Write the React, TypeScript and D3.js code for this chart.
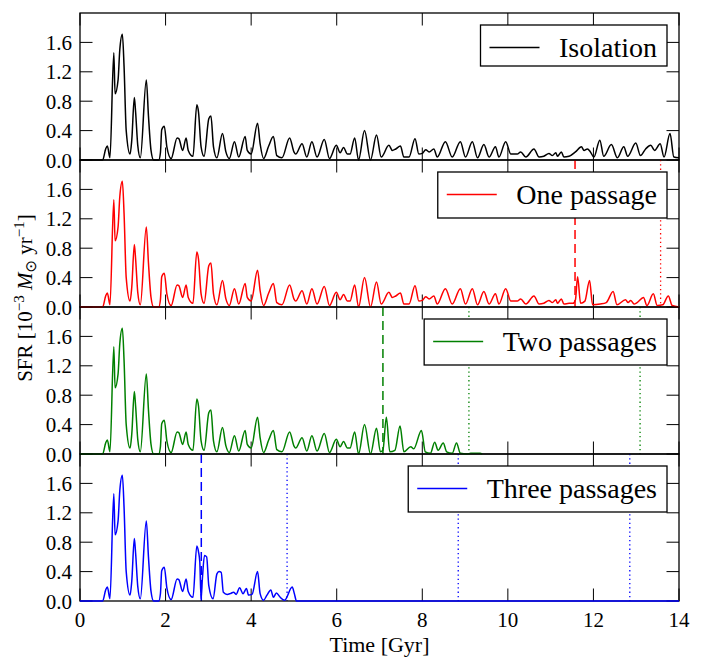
import React, { useEffect, useRef } from 'react';
import * as d3 from 'd3';

// ---- Data (time in Gyr, SFR in 1e-3 Msun/yr) ----
const isolationSfr: [number, number][] = [
  [0, 0], [0.53, 0], [0.60, 0.15], [0.64, 0.19], [0.70, 0.03], [0.79, 1.46], [0.82, 0.90],
  [0.89, 1.09], [0.93, 1.50], [0.99, 1.71], [1.03, 1.27], [1.08, 0.40], [1.17, 0.08],
  [1.21, 0.27], [1.27, 0.85], [1.30, 0.65], [1.35, 0.20], [1.41, 0.03], [1.55, 1.09],
  [1.60, 0.60], [1.66, 0.13], [1.72, 0.0], [1.84, 0.0], [1.88, 0.10], [1.91, 0.41],
  [1.97, 0.46], [2.03, 0.18], [2.13, 0.02], [2.27, 0.30], [2.31, 0.29], [2.40, 0.13],
  [2.48, 0.30], [2.53, 0.13], [2.64, 0.05], [2.73, 0.75], [2.77, 0.65], [2.83, 0.18],
  [2.90, 0.05], [3.01, 0.56], [3.06, 0.60], [3.12, 0.18], [3.20, 0.03], [3.33, 0.36],
  [3.41, 0.11], [3.49, 0.02], [3.61, 0.25], [3.71, 0.04], [3.86, 0.32], [3.91, 0.13],
  [4.00, 0.08], [4.15, 0.50], [4.21, 0.22], [4.29, 0.02], [4.41, 0.19], [4.52, 0.32],
  [4.60, 0.06], [4.72, 0.03], [4.90, 0.30], [5.00, 0.11], [5.04, 0.08], [5.19, 0.22],
  [5.30, 0.04], [5.42, 0.25], [5.54, 0.04], [5.71, 0.28], [5.83, 0.02], [5.99, 0.20],
  [6.08, 0.10], [6.16, 0.17], [6.25, 0.08], [6.31, 0.08], [6.42, 0.30], [6.51, 0.0],
  [6.65, 0.40], [6.79, 0.0], [6.93, 0.34], [7.04, 0.04], [7.22, 0.20], [7.30, 0.13],
  [7.38, 0.15], [7.49, 0.19], [7.57, 0.04], [7.69, 0.04], [7.83, 0.29], [7.92, 0.08],
  [8.00, 0.09], [8.08, 0.14], [8.16, 0.11], [8.27, 0.15], [8.35, 0.04], [8.54, 0.25],
  [8.70, 0.04], [8.89, 0.25], [9.01, 0.04], [9.17, 0.25], [9.29, 0.03], [9.44, 0.21],
  [9.56, 0.04], [9.71, 0.18], [9.79, 0.04], [9.95, 0.25], [10.07, 0.08], [10.22, 0.08],
  [10.30, 0.11], [10.42, 0.04], [10.61, 0.15], [10.73, 0.04], [10.84, 0.05], [10.96, 0.09],
  [11.04, 0.06], [11.12, 0.10], [11.16, 0.05], [11.25, 0.11], [11.31, 0.04], [11.43, 0.05],
  [11.58, 0.11], [11.72, 0.18], [11.78, 0.13], [11.86, 0.15], [11.93, 0.11], [12.01, 0.04],
  [12.15, 0.27], [12.24, 0.05], [12.42, 0.21], [12.56, 0.03], [12.71, 0.18], [12.80, 0.05],
  [12.99, 0.23], [13.10, 0.06], [13.22, 0.15], [13.34, 0.20], [13.43, 0.13], [13.56, 0.22],
  [13.65, 0.04], [13.79, 0.36], [13.88, 0.04], [14.0, 0.03],
];

// parts after each galaxy departs from the isolated run
const onePassageLate: [number, number][] = [
  [11.52, 0.05], [11.58, 0.10], [11.63, 0.41], [11.70, 0.05], [11.80, 0.08], [11.91, 0.36],
  [11.98, 0.03], [12.16, 0.04], [12.30, 0.06], [12.46, 0.21], [12.55, 0.03], [12.75, 0.10],
  [12.81, 0.06], [12.87, 0.09], [12.95, 0.04], [13.02, 0.06], [13.17, 0.13], [13.25, 0.02],
  [13.40, 0.18], [13.49, 0.02], [13.62, 0.03], [13.75, 0.15], [13.84, 0.02], [14.0, 0.0],
];
const twoPassagesLate: [number, number][] = [
  [6.93, 0.35], [7.02, 0.03], [7.08, 0.05], [7.16, 0.50], [7.24, 0.03], [7.36, 0.05],
  [7.48, 0.38], [7.57, 0.03], [7.73, 0.10], [7.80, 0.07], [7.98, 0.32], [8.07, 0.03],
  [8.19, 0.01], [8.29, 0.16], [8.37, 0.05], [8.49, 0.15], [8.57, 0.03], [8.70, 0.01],
  [8.80, 0.15], [8.89, 0.01], [9.05, 0.0], [9.13, 0.01], [9.35, 0.01], [9.40, 0.0],
];
const threePassagesLate: [number, number][] = [
  [2.73, 0.75], [2.77, 0.67], [2.80, 0.53], [2.83, 0.03], [2.86, 0.30], [2.91, 0.62],
  [2.96, 0.60], [3.01, 0.21], [3.11, 0.03], [3.20, 0.37], [3.25, 0.40], [3.30, 0.39],
  [3.35, 0.12], [3.44, 0.09], [3.51, 0.10], [3.59, 0.12], [3.65, 0.09], [3.73, 0.18],
  [3.81, 0.10], [3.89, 0.17], [3.94, 0.08], [4.02, 0.09], [4.15, 0.40], [4.21, 0.10],
  [4.29, 0.01], [4.37, 0.08], [4.46, 0.15], [4.52, 0.05], [4.59, 0.11], [4.68, 0.05],
  [4.78, 0.01], [4.96, 0.19], [5.01, 0.10], [5.06, 0.0], [14.0, 0.0],
];
const departureTimes = [14.1, 11.43, 6.79, 2.64];

const seriesNames = ['Isolation', 'One passage', 'Two passages', 'Three passages'];
const seriesColors = ['#000000', '#ff0000', '#008000', '#0000ff'];
const pericentreDashed: number[][] = [[], [11.57], [7.08], [2.835]];
const pericentreDotted: number[][] = [[], [13.57], [9.09, 13.09], [4.84, 8.84, 12.85]];

const xTicks = [0, 2, 4, 6, 8, 10, 12, 14];
const yTicks = [0, 0.4, 0.8, 1.2, 1.6];
const xDomain: [number, number] = [0, 14];
const yDomain: [number, number] = [0, 2];

const FONT = 'Liberation Serif';

export default function App() {
  const ref = useRef<SVGSVGElement>(null);

  useEffect(() => {
    const svg = d3.select(ref.current);
    svg.selectAll('*').remove();

    const left = 80, right = 679, top = 13, panelH = 147, tickLen = 12.5;
    const x = d3.scaleLinear().domain(xDomain).range([left, right]);

    const lates = [[], onePassageLate, twoPassagesLate, threePassagesLate];
    const series = seriesNames.map((name, i) => {
      const early = isolationSfr.filter((d) => d[0] <= departureTimes[i]);
      return { name, color: seriesColors[i], points: i === 0 ? isolationSfr : early.concat(lates[i] as [number, number][]) };
    });

    series.forEach((s, i) => {
      const y0 = top + i * panelH;
      const y1 = y0 + panelH;
      const y = d3.scaleLinear().domain(yDomain).range([y1, y0]);
      const g = svg.append('g');

      // passage markers
      pericentreDashed[i].forEach((t) => {
        g.append('line').attr('x1', x(t)).attr('x2', x(t)).attr('y1', y0).attr('y2', y1)
          .attr('stroke', s.color).attr('stroke-width', 1.5).attr('stroke-dasharray', '9,5');
      });
      pericentreDotted[i].forEach((t) => {
        g.append('line').attr('x1', x(t)).attr('x2', x(t)).attr('y1', y0).attr('y2', y1)
          .attr('stroke', s.color).attr('stroke-width', 1.3).attr('stroke-dasharray', '1.3,3');
      });

      // ticks
      xTicks.forEach((t) => {
        g.append('line').attr('x1', x(t)).attr('x2', x(t)).attr('y1', y1).attr('y2', y1 - tickLen)
          .attr('stroke', '#000').attr('stroke-width', 1);
        g.append('line').attr('x1', x(t)).attr('x2', x(t)).attr('y1', y0).attr('y2', y0 + tickLen)
          .attr('stroke', '#000').attr('stroke-width', 1);
      });
      yTicks.forEach((v) => {
        g.append('line').attr('x1', left).attr('x2', left + tickLen).attr('y1', y(v)).attr('y2', y(v))
          .attr('stroke', '#000').attr('stroke-width', 1);
        g.append('line').attr('x1', right).attr('x2', right - tickLen).attr('y1', y(v)).attr('y2', y(v))
          .attr('stroke', '#000').attr('stroke-width', 1);
        g.append('text').attr('x', left - 8).attr('y', y(v)).attr('dy', '0.36em')
          .attr('text-anchor', 'end').style('font-family', FONT).attr('font-size', 21)
          .text(d3.format('.1f')(v));
      });

      // frame
      g.append('rect').attr('x', left).attr('y', y0).attr('width', right - left).attr('height', panelH)
        .attr('fill', 'none').attr('stroke', '#000').attr('stroke-width', 1.3);

      // data line
      const line = d3.line<[number, number]>().x((d) => x(d[0])).y((d) => y(d[1])).curve(d3.curveMonotoneX);
      g.append('path').datum(s.points).attr('d', line).attr('fill', 'none')
        .attr('stroke', s.color).attr('stroke-width', 1.5).attr('stroke-linejoin', 'round');

      // legend
      const lg = g.append('g');
      const box = lg.append('rect');
      const boxTop = y0 + 12;
      const txt = lg.append('text').attr('x', right - 22).attr('y', boxTop + 32)
        .attr('text-anchor', 'end').style('font-family', FONT).attr('font-size', 28).text(s.name);
      const tw = (txt.node() as SVGTextElement).getComputedTextLength();
      const textStart = right - 22 - tw;
      const lx2 = textStart - 19.5, lx1 = lx2 - 50;
      lg.append('line').attr('x1', lx1).attr('x2', lx2).attr('y1', boxTop + 22.5).attr('y2', boxTop + 22.5)
        .attr('stroke', s.color).attr('stroke-width', 1.5);
      const boxH = /[gpqy]/.test(s.name) ? 46 : 41;
      box.attr('x', lx1 - 9).attr('y', boxTop).attr('width', right - 12 - (lx1 - 9)).attr('height', boxH)
        .attr('fill', '#fff').attr('stroke', '#000').attr('stroke-width', 1.3);

      // x tick labels on bottom panel
      if (i === seriesNames.length - 1) {
        xTicks.forEach((t) => {
          g.append('text').attr('x', x(t)).attr('y', y1 + 25.5).attr('text-anchor', 'middle')
            .style('font-family', FONT).attr('font-size', 21).text(String(t));
        });
        g.append('text').attr('x', (left + right) / 2).attr('y', y1 + 50.5).attr('text-anchor', 'middle')
          .style('font-family', FONT).attr('font-size', 22).text('Time [Gyr]');
      }
    });

    // y axis label
    const yl = svg.append('text').attr('transform', 'translate(32,298) rotate(-90)')
      .attr('text-anchor', 'middle').style('font-family', FONT).attr('font-size', 21);
    yl.append('tspan').text('SFR [10');
    yl.append('tspan').attr('dy', -8).attr('font-size', 15).text('\u22123');
    yl.append('tspan').attr('dy', 8).text(' ');
    yl.append('tspan').attr('font-style', 'italic').text('M');
    yl.append('tspan').attr('dy', 4).attr('font-size', 15).style('font-family', 'DejaVu Sans').text('\u2299');
    yl.append('tspan').attr('dy', -4).text(' yr');
    yl.append('tspan').attr('dy', -8).attr('font-size', 15).text('\u22121');
    yl.append('tspan').attr('dy', 8).text(']');
  }, []);

  return (
    <svg ref={ref} width={702} height={657}
      style={{ position: 'absolute', left: 0, top: 0, background: '#fff' }} />
  );
}
